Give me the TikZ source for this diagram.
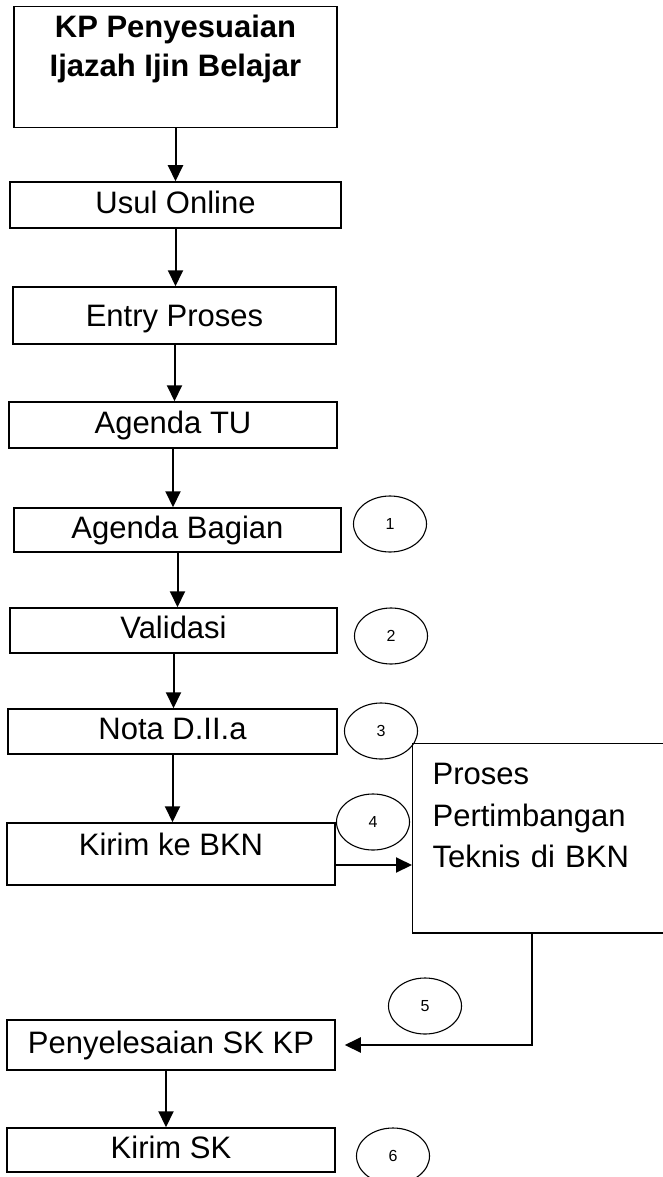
\documentclass[tikz,border=0pt]{standalone}
\usepackage{fontspec}
\setmainfont{Liberation Sans}
\usetikzlibrary{shapes.geometric,arrows.meta}

\begin{document}
\begin{tikzpicture}[x=1pt, y=-1pt,
        procbox/.style={draw, rectangle, line width=1.5pt, inner sep=0pt, font=\fontsize{31}{39}\selectfont},
        linebox/.style={procbox, text height=22pt, text depth=6pt},
        numtag/.style={draw, ellipse, line width=1.1pt, minimum width=73pt, minimum height=56pt, inner sep=0pt, font=\fontsize{16}{19}\selectfont},
        flowarrow/.style={line width=2pt, -{Triangle[width=15pt,length=16pt]}}]

        \useasboundingbox[fill=white] (0,0) rectangle (663,1177);

        % main column, boxes placed at measured centres
        \node[procbox, minimum width=323pt, minimum height=120pt, align=center, inner ysep=9pt, font=\bfseries\fontsize{31}{39}\selectfont, text depth=42pt] (kp) at (175.5,67) {KP Penyesuaian\\Ijazah Ijin Belajar};
        \node[linebox, minimum width=331pt, minimum height=46pt] (usul) at (175.5,205) {Usul Online};
        \node[linebox, minimum width=323pt, minimum height=57pt, text depth=0pt] (entry) at (174.5,315.5) {Entry Proses};
        \node[linebox, minimum width=328pt, minimum height=46pt] (agtu) at (173,425) {Agenda TU};
        \node[linebox, minimum width=327pt, minimum height=44pt] (agbag) at (177.5,530) {Agenda Bagian};
        \node[linebox, minimum width=327pt, minimum height=45pt] (valid) at (173.5,630.5) {Validasi};
        \node[linebox, minimum width=329pt, minimum height=45pt] (nota) at (172.5,731.5) {Nota D.II.a};
        \node[linebox, minimum width=328pt, minimum height=62pt, text depth=20pt] (kirim) at (171,854) {Kirim ke BKN};
        \node[linebox, minimum width=328pt, minimum height=50pt] (pen) at (171,1045) {Penyelesaian SK KP};
        \node[linebox, minimum width=328pt, minimum height=44pt] (kirimsk) at (171,1150) {Kirim SK};

        % BKN box runs off the right edge
        \node[procbox, line width=1.2pt, anchor=north west, minimum width=280pt, minimum height=189pt, align=left, text width=240pt, inner xsep=20pt, inner ysep=20pt, font=\fontsize{31}{41.5}\selectfont, text depth=128pt] (proses) at (412,743) {Proses\\Pertimbangan\\Teknis di BKN};

        % step numbers
        \node[numtag] (n1) at (390,524) {1};
        \node[numtag] (n2) at (391,636) {2};
        \node[numtag] (n3) at (381,731) {3};
        \node[numtag] (n4) at (373,822) {4};
        \node[numtag] (n5) at (425,1006) {5};
        \node[numtag] (n6) at (393,1156) {6};

        \draw[flowarrow] (kp.south) -- (kp.south |- usul.north);
        \draw[flowarrow] (usul.south) -- (usul.south |- entry.north);
        \draw[flowarrow] (entry.south) -- (entry.south |- agtu.north);
        \draw[flowarrow] (agtu.south) -- (agtu.south |- agbag.north);
        \draw[flowarrow] (agbag.south) -- (agbag.south |- valid.north);
        \draw[flowarrow] (valid.south) -- (valid.south |- nota.north);
        \draw[flowarrow] (nota.south) -- (nota.south |- kirim.north);
        \draw[flowarrow] ([yshift=-11pt]kirim.east) -- ([yshift=-11pt]kirim.east -| proses.west);
        \draw[flowarrow] ([xshift=120pt]proses.south west) |- ([xshift=9pt]pen.east);
        \draw[flowarrow] ([xshift=-5pt]pen.south) -- ([xshift=-5pt]pen.south |- kirimsk.north);
    \end{tikzpicture}
\end{document}
